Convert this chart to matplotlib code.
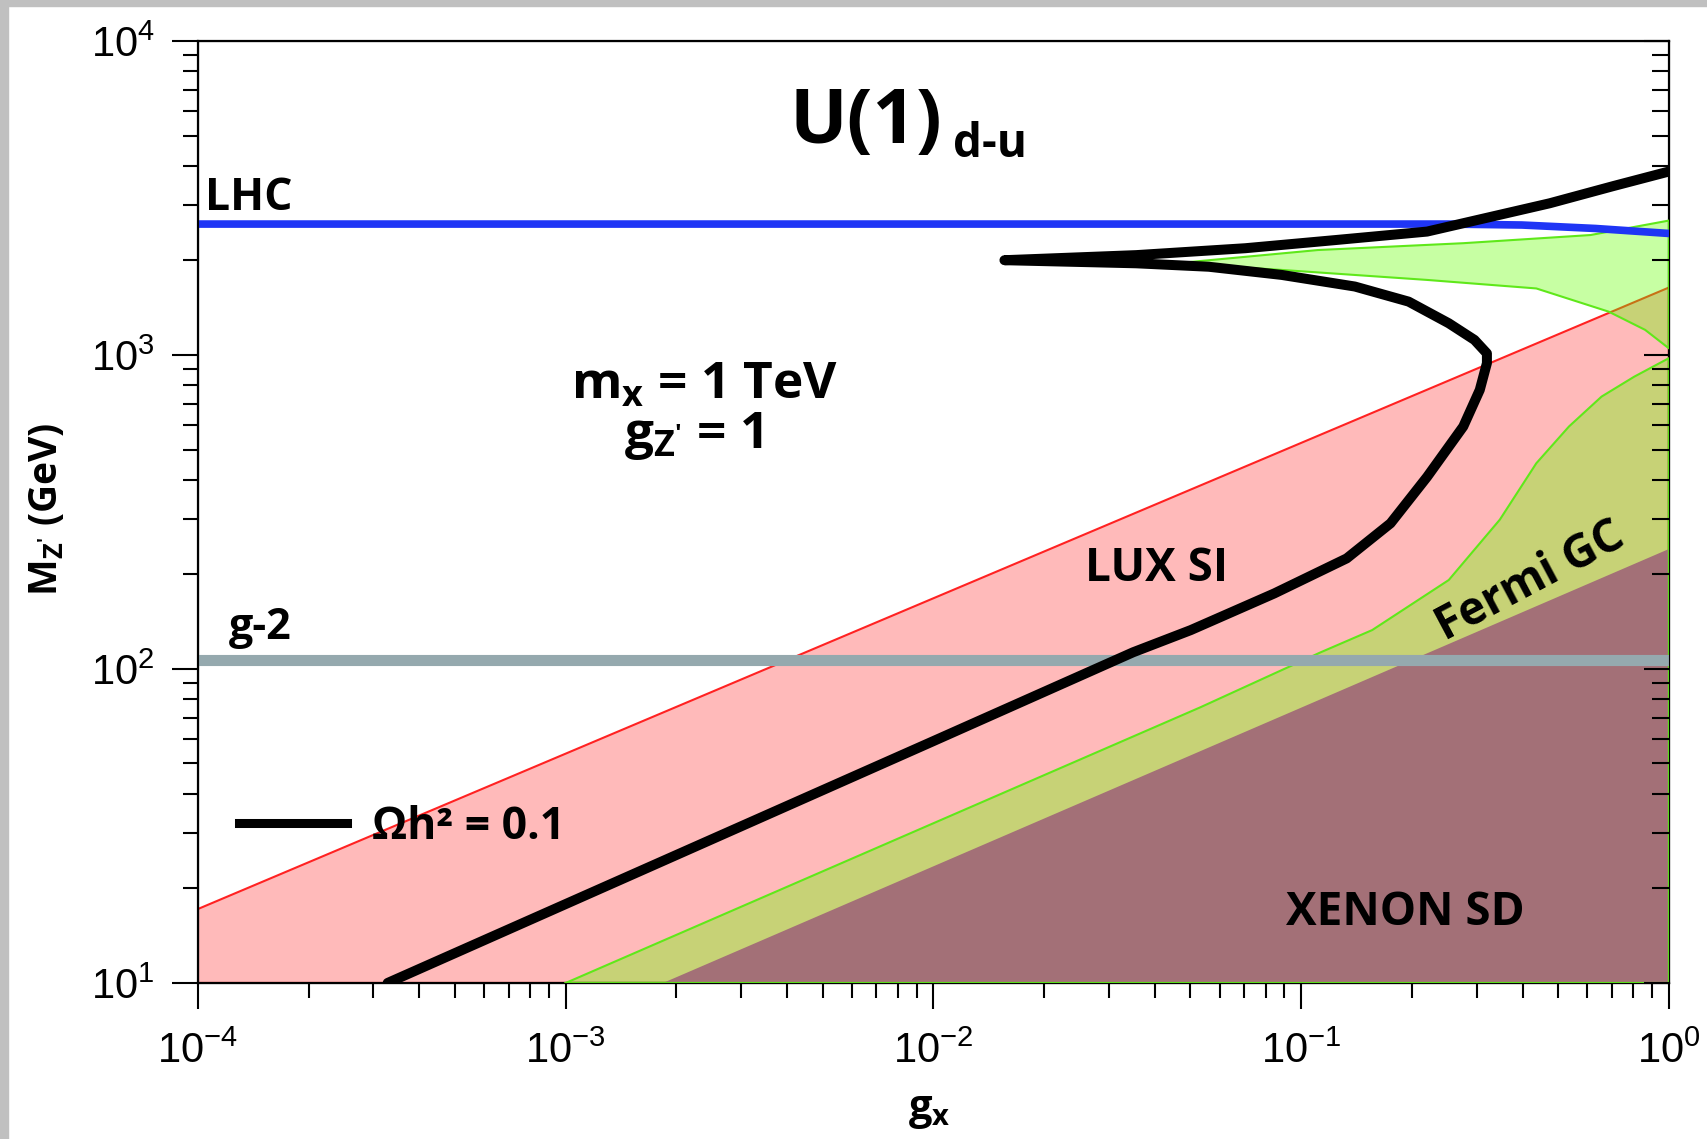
import matplotlib.pyplot as plt
from matplotlib.patches import Rectangle

plt.rcParams["font.family"] = ["Open Sans", "DejaVu Sans"]
plt.rcParams["mathtext.fontset"] = "custom"
plt.rcParams["mathtext.rm"] = "Open Sans:bold"
plt.rcParams["mathtext.bf"] = "Open Sans:bold"
plt.rcParams["mathtext.it"] = "Open Sans:bold"

# relic density curve Omega h^2 = 0.1  (g_x, M_Z' in GeV)
relic_g = [3.28e-4, 9.86e-3, 0.0349, 0.0501, 0.0845, 0.133, 0.175, 0.220, 0.276,
           0.306, 0.320, 0.320, 0.296, 0.252, 0.196, 0.140, 0.0885, 0.0561, 0.0356,
           0.0156, 0.0356, 0.0705, 0.124, 0.220, 0.474, 0.706, 1.0]
relic_M = [10, 58.5, 113, 133, 174, 225, 291, 409, 592,
           774, 942, 1012, 1117, 1262, 1479, 1652, 1799, 1910, 1959,
           2004, 2080, 2188, 2323, 2472, 3042, 3451, 3840]

# LHC bound
lhc_g = [1e-4, 0.251, 0.398, 0.631, 1.0]
lhc_M = [2612, 2612, 2594, 2529, 2438]

# g-2 bound
g2_M = 107

# LUX SI (upper edge)
lux_g = [1e-4, 1.0]
lux_M = [17.2, 1640]

# Fermi GC, resonance lobe
lobe_up_g = [0.0457, 0.111, 0.276, 0.612, 1.0]
lobe_up_M = [1959, 2159, 2270, 2410, 2680]
lobe_lo_g = [0.0457, 0.0885, 0.220, 0.436, 0.686, 0.862, 1.0]
lobe_lo_M = [1959, 1866, 1734, 1629, 1374, 1202, 1050]

# Fermi GC, lower region (upper-left edge)
fermi_g = [1e-3, 0.0532, 0.113, 0.156, 0.252, 0.347, 0.436, 0.535, 0.656, 0.805, 1.0]
fermi_M = [10, 75.5, 113, 133, 192, 299, 452, 592, 737, 853, 977]

# XENON SD (upper edge)
xenon_g = [1.84e-3, 1.0]
xenon_M = [10, 241]

x_min, x_max = 1e-4, 1.0
y_min, y_max = 10, 1e4

fig = plt.figure(figsize=(17.08, 11.39), dpi=100)
fig.patches.append(Rectangle((0, 1 - 6 / 1139), 1, 6 / 1139, transform=fig.transFigure,
                             color="#c0c0c0", zorder=-1))
fig.patches.append(Rectangle((0, 0), 8 / 1708, 1, transform=fig.transFigure,
                             color="#c0c0c0", zorder=-1))

ax = fig.add_axes([0.1159, 0.1370, 0.8612, 0.8270])
ax.set_xscale("log")
ax.set_yscale("log")
ax.set_xlim(x_min, x_max)
ax.set_ylim(y_min, y_max)

red_fill = "#ffbaba"
red_edge = "#ff2222"
green_fill = (0.40, 1.0, 0.0, 0.36)
green_edge = "#5fe81a"

# LUX SI
ax.fill([x_min] + lux_g + [x_max], [y_min] + lux_M + [y_min],
        facecolor=red_fill, edgecolor=red_edge, lw=1.5, zorder=1)

# Fermi GC
lobe_x = lobe_up_g + lobe_lo_g[::-1]
lobe_y = lobe_up_M + lobe_lo_M[::-1]
ax.fill(lobe_x, lobe_y, facecolor=green_fill, edgecolor="none", zorder=2)
low_x = fermi_g + [x_max, fermi_g[0]]
low_y = fermi_M + [y_min, y_min]
ax.fill(low_x, low_y, facecolor=green_fill, edgecolor="none", zorder=2)

# XENON SD
ax.fill(xenon_g + [x_max], xenon_M + [y_min], facecolor="#a37077",
        edgecolor="none", zorder=3)

ax.plot(lobe_x + [lobe_x[0]], lobe_y + [lobe_y[0]], color=green_edge, lw=1.5, zorder=3.5)
ax.plot(low_x, low_y, color=green_edge, lw=1.5, zorder=3.5)

ax.axhline(g2_M, color="#95a9ae", lw=8, zorder=4)
ax.plot(lhc_g, lhc_M, color="#1f35f5", lw=5.5, zorder=4)
ax.plot(relic_g, relic_M, color="black", lw=7.2, solid_capstyle="round",
        solid_joinstyle="round", zorder=5)

# legend sample
ax.plot([0.0279, 0.1014], [0.1695, 0.1695], color="black", lw=6.5,
        transform=ax.transAxes, clip_on=False, zorder=6)

# ticks
ax.tick_params(which="both", direction="out", top=False, right=False, width=1.5,
               labelfontfamily="Liberation Sans", labelsize=30)
ax.tick_params(axis="x", which="major", length=19, pad=16)
ax.tick_params(axis="y", which="major", length=19, pad=12)
ax.tick_params(which="minor", length=11)
for s in ax.spines.values():
    s.set_linewidth(1.6)

ax2 = ax.twinx()
ax2.set_yscale("log")
ax2.set_ylim(y_min, y_max)
ax2.tick_params(which="both", direction="in", right=True, left=False,
                labelright=False, width=1.5)
ax2.tick_params(which="major", length=18)
ax2.tick_params(which="minor", length=12)

# labels
tx = dict(transform=ax.transAxes, fontweight="bold", zorder=7)
ax.text(0.4023, 0.892, "U(1)", fontsize=55, ha="left", va="baseline", **tx)
ax.text(0.513, 0.877, "d-u", fontsize=33, ha="left", va="baseline", **tx)
ax.text(0.0045, 0.821, "LHC", fontsize=32, ha="left", va="baseline", **tx)
ax.text(0.0208, 0.365, "g-2", fontsize=31, ha="left", va="baseline", **tx)
ax.text(0.3443, 0.620, r"$\mathbf{m_x}$ = 1 TeV", fontsize=37, ha="center", va="baseline", **tx)
ax.text(0.3366, 0.5677, r"$\mathbf{g_{Z'}}$ = 1", fontsize=37, ha="center", va="baseline", **tx)
ax.text(0.652, 0.4264, "LUX SI", fontsize=33, ha="center", va="baseline", **tx)
ax.text(0.906, 0.4264, "Fermi GC", fontsize=33, ha="center", va="center",
        rotation=28, rotation_mode="anchor", **tx)
ax.text(0.821, 0.0613, "XENON SD", fontsize=33, ha="center", va="baseline", **tx)
ax.text(0.1184, 0.1528, "Ωh² = 0.1", fontsize=32, ha="left", va="baseline", **tx)

ax.text(0.497, -0.135, r"$\mathbf{g_x}$", fontsize=30, ha="center", va="center",
        transform=ax.transAxes)
ax.text(-0.103, 0.503, r"$\mathbf{M_{Z'}}$ (GeV)", fontsize=28, fontweight="bold",
        rotation=90, ha="center", va="center", transform=ax.transAxes)

fig.savefig("out.png", dpi=100)
